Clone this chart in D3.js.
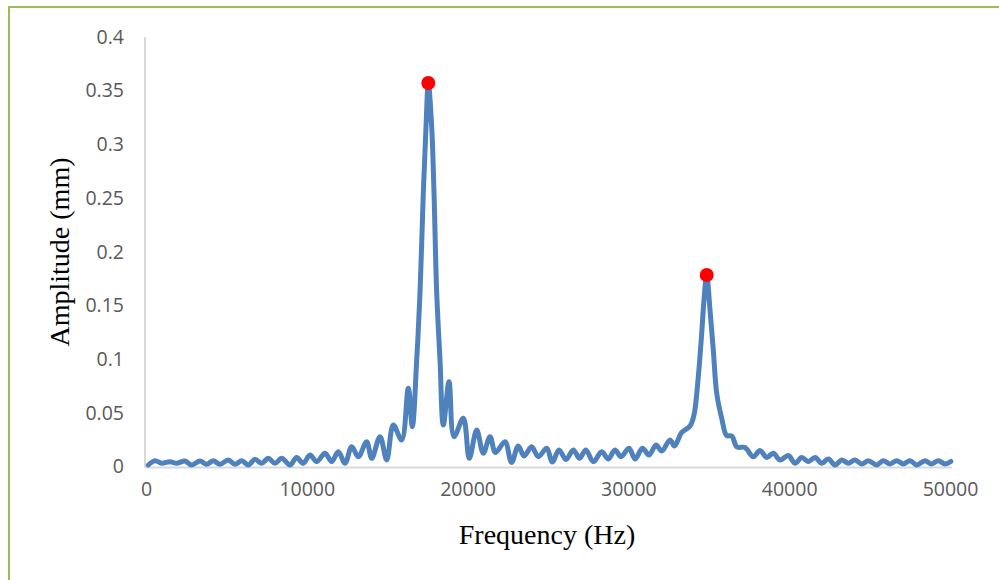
<!DOCTYPE html>
<html>
<head>
<meta charset="utf-8">
<script src="https://cdn.jsdelivr.net/npm/d3@7"></script>
<style>
  body { margin: 0; background: #fff; }
</style>
</head>
<body>
<div id="graph"></div>
<script>
// frequency (Hz) / amplitude (mm)
var freq = [143, 560, 976, 1493, 1909, 2425, 2842, 3358, 3775, 4185, 4602, 5118, 5535, 5952,
  6362, 6779, 7195, 7606, 8023, 8439, 8955, 9372, 9782, 10199, 10615, 11132, 11549, 11959,
  12376, 12793, 13203, 13725, 14036, 14552, 14969, 15380, 15902, 16313, 16561, 16835, 17040,
  17245, 17413, 17556, 17767, 17911, 18079, 18284, 18490, 18844, 19155, 19733, 20106, 20566,
  20977, 21393, 21735, 22326, 22730, 23153, 23508, 23987, 24397, 24920, 25268, 25685, 26120,
  26574, 26960, 27351, 27818, 28340, 28751, 29167, 29540, 30038, 30411, 30877, 31281, 31717,
  32071, 32587, 32868, 33315, 33831, 34080, 34347, 34559, 34702, 34870, 35075, 35280, 35492,
  35803, 36114, 36425, 36754, 37252, 37768, 38185, 38601, 39012, 39429, 39945, 40362, 40779,
  41189, 41605, 42022, 42433, 42849, 43266, 43676, 44093, 44510, 44920, 45442, 45853, 46269,
  46686, 47096, 47513, 47930, 48446, 48862, 49273, 49690, 50050];

var amp = [0.0014, 0.0054, 0.0030, 0.0045, 0.0030, 0.0051, 0.0014, 0.0051, 0.0020, 0.0054,
  0.0020, 0.0061, 0.0020, 0.0054, 0.0014, 0.0067, 0.0030, 0.0076, 0.0030, 0.0076, 0.0014,
  0.0084, 0.0030, 0.0107, 0.0045, 0.0123, 0.0045, 0.0138, 0.0030, 0.0184, 0.0091, 0.0231,
  0.0076, 0.0278, 0.0061, 0.0386, 0.0247, 0.0728, 0.0371, 0.0992, 0.1616, 0.2547, 0.3162,
  0.3572, 0.3162, 0.2547, 0.1616, 0.0992, 0.0386, 0.0790, 0.0278, 0.0449, 0.0076, 0.0340,
  0.0123, 0.0278, 0.0130, 0.0231, 0.0037, 0.0191, 0.0098, 0.0184, 0.0091, 0.0170, 0.0042,
  0.0154, 0.0065, 0.0154, 0.0076, 0.0154, 0.0045, 0.0138, 0.0070, 0.0154, 0.0091, 0.0170,
  0.0070, 0.0170, 0.0107, 0.0200, 0.0144, 0.0247, 0.0191, 0.0317, 0.0377, 0.0480, 0.0836,
  0.1241, 0.1551, 0.1783, 0.1457, 0.1085, 0.0682, 0.0449, 0.0288, 0.0284, 0.0182, 0.0177,
  0.0091, 0.0149, 0.0084, 0.0123, 0.0061, 0.0102, 0.0030, 0.0084, 0.0045, 0.0084, 0.0030,
  0.0070, 0.0014, 0.0061, 0.0030, 0.0061, 0.0023, 0.0054, 0.0014, 0.0054, 0.0023, 0.0054,
  0.0023, 0.0054, 0.0014, 0.0054, 0.0023, 0.0054, 0.0023, 0.0047];

// the two marked peaks
var peakFreq = [17556, 34870];
var peakAmp = [0.3572, 0.1783];

var xTicks = [0, 10000, 20000, 30000, 40000, 50000];
var yTicks = [0, 0.05, 0.1, 0.15, 0.2, 0.25, 0.3, 0.35, 0.4];

var width = 999;
var height = 580;

var data = freq.map(function (f, i) {return {f: f, a: amp[i]};});
var peaks = peakFreq.map(function (f, i) {return {f: f, a: peakAmp[i]};});

var svg = d3.select("#graph").
append("svg").
attr("width", width).
attr("height", height);

// outer frame
svg.append("rect").
attr("x", 9).
attr("y", 7).
attr("width", 1010).
attr("height", 600).
attr("fill", "none").
attr("stroke", "#9bbb59").
attr("stroke-width", 2);

var xScale = d3.scaleLinear().
domain([0, 50000]).
range([146, 950]);

var yScale = d3.scaleLinear().
domain([0, 0.4]).
range([466.5, 37]);

// axis lines
svg.append("line").
attr("x1", 145).attr("x2", 145).
attr("y1", yScale(0.4)).attr("y2", yScale(0) + 1).
attr("stroke", "#d9d9d9").
attr("stroke-width", 2);

svg.append("line").
attr("x1", 145).attr("x2", xScale(50000) + 2).
attr("y1", yScale(0) + 1).attr("y2", yScale(0) + 1).
attr("stroke", "#d9d9d9").
attr("stroke-width", 2);

var xAxis = d3.axisBottom(xScale).
tickValues(xTicks).
tickSize(0).
tickPadding(16).
tickFormat(d3.format("d"));

var yAxis = d3.axisLeft(yScale).
tickValues(yTicks).
tickSize(0).
tickPadding(22).
tickFormat(function (d) {return d === 0 ? "0" : d3.format("")(+d.toFixed(2));});

svg.append("g").
attr("transform", "translate(0," + yScale(0) + ")").
call(xAxis).
call(function (g) {g.select(".domain").remove();}).
selectAll("text").
style("font-family", "Open Sans").
style("font-size", "19.5px").
attr("fill", "#595959");

svg.append("g").
attr("transform", "translate(146,0)").
call(yAxis).
call(function (g) {g.select(".domain").remove();}).
selectAll("text").
style("font-family", "Open Sans").
style("font-size", "19.5px").
attr("fill", "#595959");

var line = d3.line().
x(function (d) {return xScale(d.f);}).
y(function (d) {return yScale(d.a);}).
curve(d3.curveCatmullRom.alpha(0.5));

svg.append("path").
datum(data).
attr("d", line).
attr("fill", "none").
attr("stroke", "#4f81bd").
attr("stroke-width", 5).
attr("stroke-linejoin", "round").
attr("stroke-linecap", "round");

svg.selectAll(".peak").
data(peaks).
enter().
append("circle").
attr("class", "peak").
attr("cx", function (d) {return xScale(d.f);}).
attr("cy", function (d) {return yScale(d.a);}).
attr("r", 7).
attr("fill", "#ff0000");

svg.append("text").
attr("x", 547).
attr("y", 544).
style("text-anchor", "middle").
style("font-family", "Liberation Serif").
style("font-size", "28px").
attr("fill", "#000").
text("Frequency (Hz)");

svg.append("text").
attr("transform", "translate(69,252) rotate(-90)").
style("text-anchor", "middle").
style("font-family", "Liberation Serif").
style("font-size", "28px").
attr("fill", "#000").
text("Amplitude (mm)");
</script>
</body>
</html>
